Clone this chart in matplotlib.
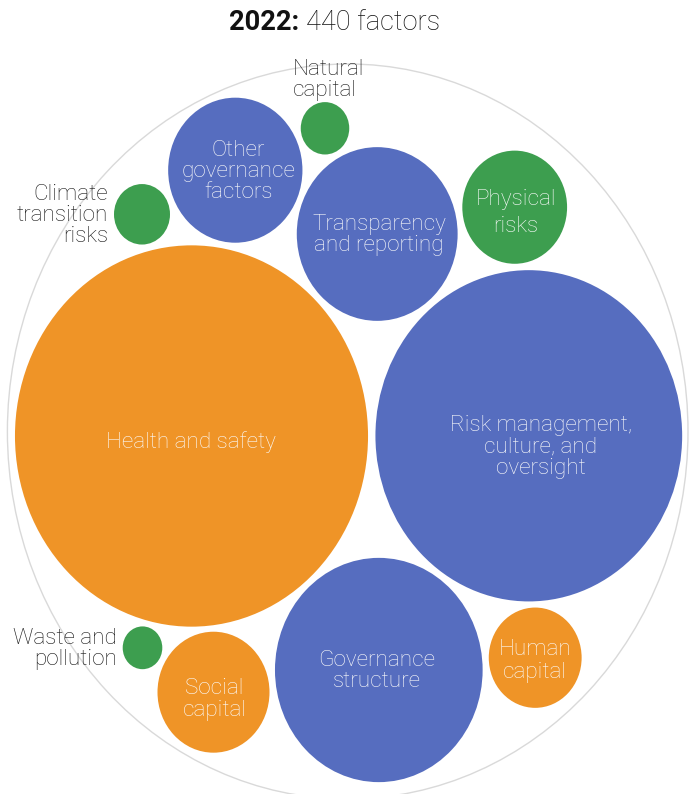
import matplotlib
matplotlib.use("Agg")
import matplotlib.pyplot as plt
from matplotlib.patches import Ellipse
import numpy as np

# --- data: number of factors per category (2022, total 440) ---
categories = [
    "Health and safety",
    "Risk management,\nculture, and\noversight",
    "Governance\nstructure",
    "Transparency\nand reporting",
    "Other\ngovernance\nfactors",
    "Physical\nrisks",
    "Social\ncapital",
    "Human\ncapital",
    "Climate\ntransition\nrisks",
    "Natural\ncapital",
    "Waste and\npollution",
]
counts = [159, 120, 55, 33, 23, 14, 16, 11, 4, 3, 2]
groups = ["social", "governance", "governance", "governance", "governance",
          "environment", "social", "social", "environment", "environment",
          "environment"]

# --- styling / layout ---
palette = {"social": "#EF9427", "governance": "#566DBF", "environment": "#3D9E4F"}
SCALE = 14.0          # px of radius per sqrt(factor)
ASPECT = 1.08         # vertical stretch of the packed layout
# packed centre positions (px, origin top-left)
centers = [(191.5, 436), (528.8, 435.8), (378.8, 670), (377.2, 234),
           (235.3, 170.2), (514.7, 207.2), (213.5, 692.2), (535.2, 657.7),
           (142, 214.3), (325, 128.3), (142.5, 647.8)]
# where each label sits: "in" = centred inside; otherwise outside anchor
label_mode = ["in", "in", "in", "in", "in", "in", "in", "in",
              "left", "top", "left"]
label_shift = [(-1, 6), (12, 11), (-2, 1), (2, 1), (3, 1), (1, 6),
               (1, 7), (0, 3), (0, 0), (0, 0), (0, 0)]
line_gap = [1.0, 1.03, 1.06, 1.03, 0.99, 1.38, 1.08, 1.12, 1.0, 1.0, 1.0]
outer_center = (347.7, 431.5)
outer_radius = 340.3

W, H = 694, 794
fig = plt.figure(figsize=(W / 100, H / 100), dpi=100)
ax = fig.add_axes([0, 0, 1, 1])
ax.set_xlim(0, W)
ax.set_ylim(H, 0)
ax.axis("off")

FONT = ["Roboto", "DejaVu Sans"]
FS = 16.2

# enclosing circle
ax.add_patch(Ellipse(outer_center, 2 * outer_radius, 2 * outer_radius * ASPECT,
                     fill=False, ec="#D9D9D9", lw=1.0))

for name, n, g, (cx, cy), mode, (dx, dy), ls in zip(
        categories, counts, groups, centers, label_mode, label_shift, line_gap):
    r = SCALE * np.sqrt(n)
    ax.add_patch(Ellipse((cx, cy), 2 * r, 2 * r * ASPECT,
                         fc=palette[g], ec="none"))
    if mode == "in":
        ax.text(cx + dx, cy + dy, name, ha="center", va="center",
                color="#FBFBFB", fontsize=FS, family=FONT, fontweight="light",
                linespacing=ls)
    elif mode == "left":
        ax.text(cx - r - 6, cy + 1, name, ha="right", va="center",
                color="#161616", fontsize=FS, family=FONT, fontweight="light",
                linespacing=ls)
    elif mode == "top":
        ax.text(cx - r - 8, cy - r * ASPECT - 1, name, ha="left", va="bottom",
                color="#161616", fontsize=FS, family=FONT, fontweight="light",
                linespacing=ls)

# title: bold year followed by regular count
ax.text(299, 23, "2022:", ha="right", va="center", fontsize=19.6,
        family=FONT, fontweight="bold", color="#111111")
ax.text(306, 23, f"{sum(counts)} factors", ha="left", va="center",
        fontsize=19.6, family=FONT, fontweight="light", color="#111111")

fig.savefig("out.png", dpi=100, facecolor="white")
